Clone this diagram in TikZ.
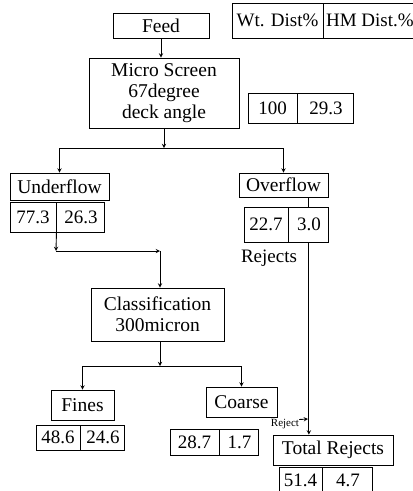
\documentclass[tikz,border=0pt]{standalone}
\usepackage{fontspec}
\setmainfont{Liberation Serif}
\begin{document}
\begin{tikzpicture}[x=1pt,y=-1pt,>=stealth,
  blk/.style={draw,line width=0.9pt,inner sep=0pt,align=center,font=\fontsize{19.5}{20.7}\selectfont},
  cell/.style={draw,line width=0.9pt,inner sep=0pt,font=\fontsize{19}{20}\selectfont},
  txt/.style={inner sep=0pt,font=\fontsize{19}{20}\selectfont},
  link/.style={line width=0.9pt}]
\useasboundingbox (0,0) rectangle (413,491);
\clip (0,0) rectangle (413,491);
% header
\node[cell,minimum width=91pt,minimum height=35pt] (wt) at (277.5,20.5) {Wt. Dist\%};
\node[cell,minimum width=92pt,minimum height=35pt,anchor=west] (hm) at (wt.east) {HM Dist.\%};
% screen
\node[blk,minimum width=96pt,minimum height=25pt] (feed) at (161,25.5) {Feed};
\node[blk,minimum width=150pt,minimum height=70pt] (micro) at (164,93) {Micro Screen\\67degree\\deck angle};
\node[cell,minimum width=49pt,minimum height=30pt] (ms1) at (272.5,108) {100};
\node[cell,minimum width=56pt,minimum height=30pt,anchor=west] (ms2) at (ms1.east) {29.3};
% products of the screen
\node[blk,minimum width=99pt,minimum height=27pt] (under) at (59.5,186.5) {Underflow};
\node[cell,minimum width=46pt,minimum height=30pt] (u1) at (33,217) {77.3};
\node[cell,minimum width=48pt,minimum height=30pt,anchor=west] (u2) at (u1.east) {26.3};
\node[blk,minimum width=89pt,minimum height=24pt] (over) at (283.5,185) {Overflow};
\node[cell,minimum width=44pt,minimum height=35pt] (o1) at (266,224.5) {22.7};
\node[cell,minimum width=40pt,minimum height=35pt,anchor=west] (o2) at (o1.east) {3.0};
\node[txt] (rejects) at (269,258) {Rejects};
% classifier
\node[blk,minimum width=133pt,minimum height=53pt] (class) at (157.5,314.5) {Classification\\300micron};
\node[blk,minimum width=63pt,minimum height=30pt] (fines) at (82.5,405) {Fines};
\node[cell,minimum width=44pt,minimum height=25pt] (f1) at (58,437.5) {48.6};
\node[cell,minimum width=44pt,minimum height=25pt,anchor=west] (f2) at (f1.east) {24.6};
\node[blk,minimum width=71pt,minimum height=30pt] (coarse) at (241.5,402) {Coarse};
\node[cell,minimum width=49pt,minimum height=26pt] (c1) at (194.5,442) {28.7};
\node[cell,minimum width=39pt,minimum height=26pt,anchor=west] (c2) at (c1.east) {1.7};
\node[inner sep=0pt,font=\fontsize{11}{12}\selectfont] (rejlbl) at (285,424.5) {Reject};
% total
\node[blk,minimum width=120pt,minimum height=30pt] (total) at (333,450) {Total Rejects};
\node[cell,minimum width=43pt,minimum height=25pt] (t1) at (300.5,480) {51.4};
\node[cell,minimum width=50pt,minimum height=25pt,anchor=west] (t2) at (t1.east) {4.7};
% connectors
\coordinate (split1) at (164,148);
\coordinate (bend1) at (56,251);
\coordinate (bend2) at (160,251);
\coordinate (split2) at (160,366);
\coordinate (rj) at (308,419);
\draw[link,->] (feed.south) -- (feed.south |- micro.north);
\draw[link,->] (micro.south) -- (split1);
\draw[link,->] (split1) -| (under.north);
\draw[link,->] (split1) -| (over.north);
\draw[link,->] (u1.south east) -- (bend1);
\draw[link,->] (bend1) -- (bend2);
\draw[link,->] (bend2) -- (bend2 |- class.north);
\draw[link] (over.south -| o2) -- (o2.north);
\draw[link,->] (o2.south) -- (o2.south |- total.north);
\draw[link,->] (rejlbl.north east) -- (rj);
\draw[link,->] (class.south -| split2) -- (split2);
\draw[link,->] (split2) -| (fines.north);
\draw[link,->] (split2) -| (coarse.north);
\end{tikzpicture}
\end{document}
